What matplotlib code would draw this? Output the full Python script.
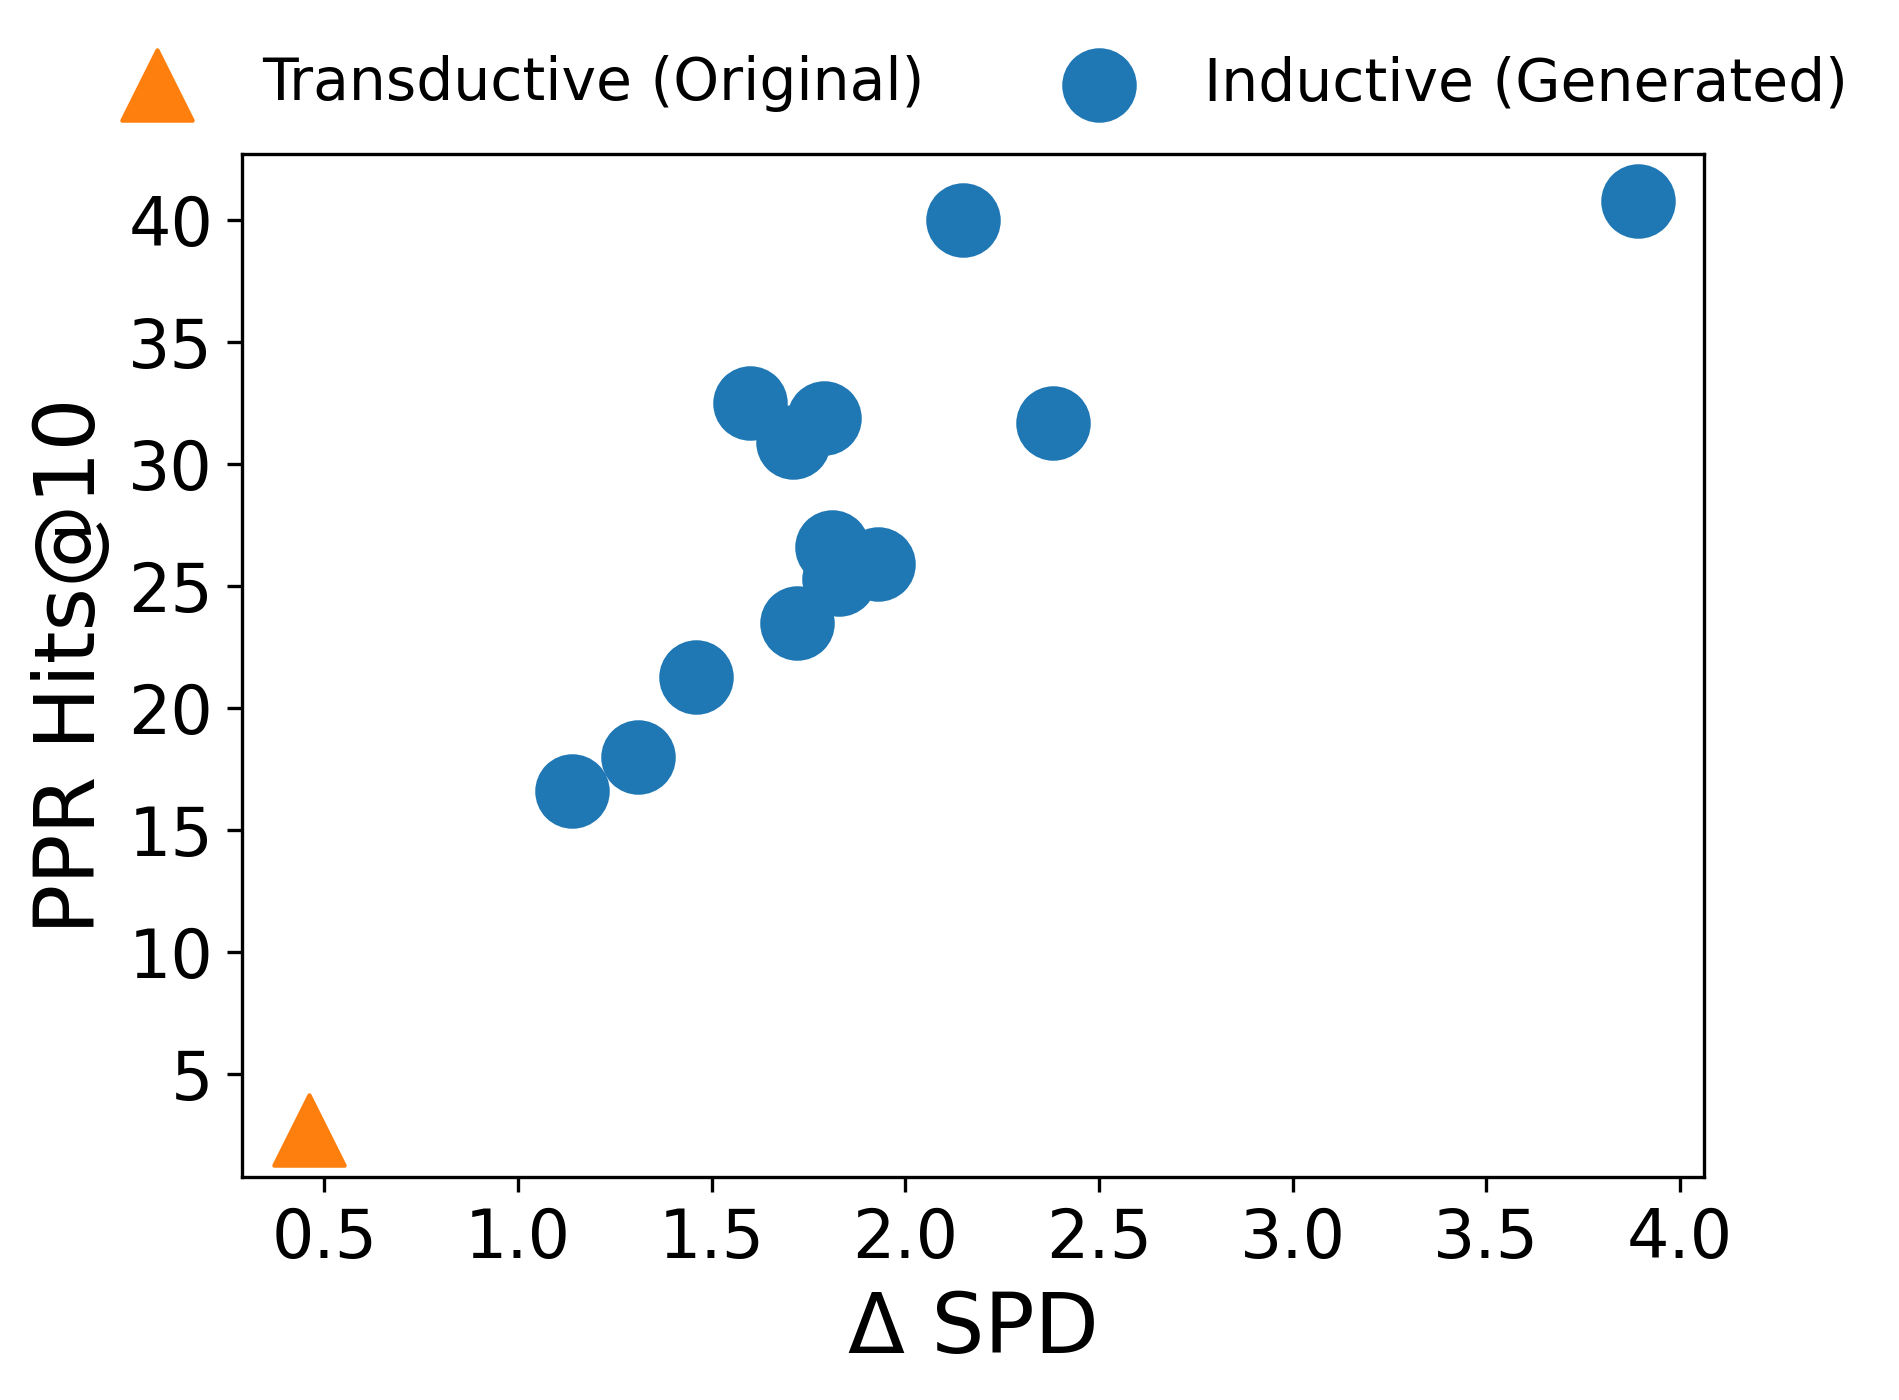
import numpy as np
import matplotlib.pyplot as plt
from matplotlib.ticker import MultipleLocator

# Δ SPD vs PPR Hits@10
trans_spd = [0.46]
trans_hits = [2.7]

ind_spd = [1.14, 1.31, 1.46, 1.60, 1.71, 1.79, 1.72, 1.81, 1.83, 1.93, 2.15, 2.38, 3.89]
ind_hits = [16.6, 18.0, 21.3, 32.5, 30.9, 31.9, 23.5, 26.6, 25.3, 25.9, 40.0, 31.7, 40.8]

fig = plt.figure(figsize=(1899 / 300, 1400 / 300), dpi=300)
ax = fig.add_axes([0.1276, 0.1593, 0.8973 - 0.1276, 0.8898 - 0.1593])

ax.scatter(trans_spd, trans_hits, marker="^", s=285, color="#ff7f0e",
           label="Transductive (Original)")
ax.scatter(ind_spd, ind_hits, marker="o", s=285, color="#1f77b4",
           label="Inductive (Generated)")

ax.xaxis.set_major_locator(MultipleLocator(0.5))
ax.yaxis.set_major_locator(MultipleLocator(5))

ax.set_xlabel("Δ SPD", fontsize=20)
ax.set_ylabel("PPR Hits@10", fontsize=20)
ax.tick_params(labelsize=16)

ax.legend(loc="lower center", bbox_to_anchor=(0.5, 0.99), ncol=2,
          frameon=False, fontsize=14)

fig.savefig("out.png", dpi=300)
